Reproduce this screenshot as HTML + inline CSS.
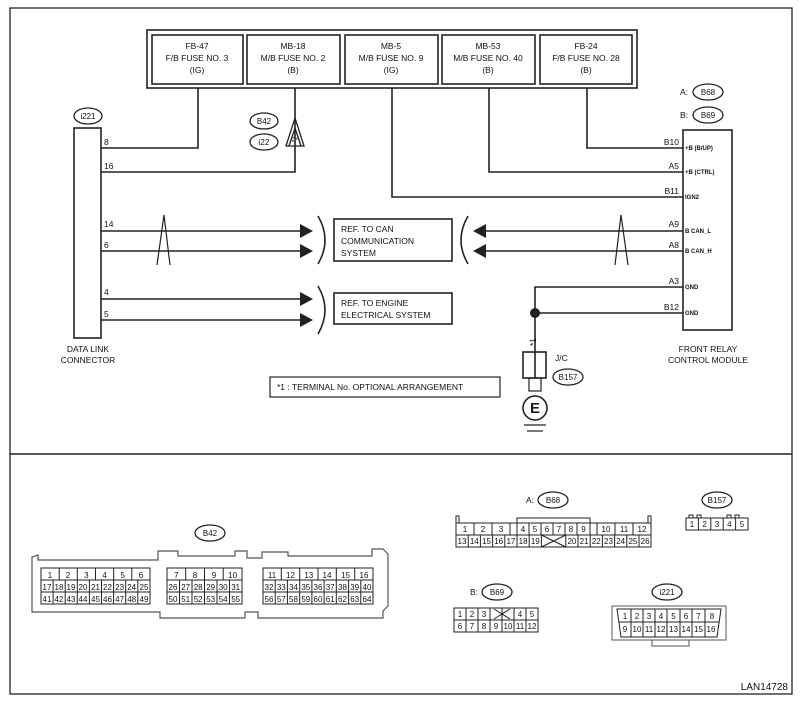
<!DOCTYPE html>
<html><head><meta charset="utf-8"><style>
html,body{margin:0;padding:0;background:#fff;}
svg{display:block;font-family:"Liberation Sans",Arial,sans-serif;}
.t{font-size:8.5px;fill:#111;}
.s{font-size:6px;fill:#111;font-weight:bold;}
.g{font-size:8px;fill:#111;text-anchor:middle;}
</style></head><body>
<svg width="802" height="704" viewBox="0 0 802 704" xmlns="http://www.w3.org/2000/svg">
<g fill="none" stroke="#222" stroke-width="1.3">
<rect x="10" y="8" width="782" height="686"/>
<line x1="10" y1="454" x2="792" y2="454" stroke-width="1.6"/>
</g>
<g fill="none" stroke="#222" stroke-width="1.6">
<rect x="147" y="30" width="490" height="58"/>
<rect x="152" y="35" width="91" height="49"/>
<rect x="247" y="35" width="93" height="49"/>
<rect x="345" y="35" width="93" height="49"/>
<rect x="442" y="35" width="93" height="49"/>
<rect x="540" y="35" width="92" height="49"/>
</g>
<g class="t" text-anchor="middle">
<text x="197" y="49">FB-47</text><text x="197" y="61">F/B FUSE NO. 3</text><text x="197" y="73">(IG)</text>
<text x="293" y="49">MB-18</text><text x="293" y="61">M/B FUSE NO. 2</text><text x="293" y="73">(B)</text>
<text x="391" y="49">MB-5</text><text x="391" y="61">M/B FUSE NO. 9</text><text x="391" y="73">(IG)</text>
<text x="488" y="49">MB-53</text><text x="488" y="61">M/B FUSE NO. 40</text><text x="488" y="73">(B)</text>
<text x="586" y="49">FB-24</text><text x="586" y="61">F/B FUSE NO. 28</text><text x="586" y="73">(B)</text>
</g>
<g fill="none" stroke="#222" stroke-width="1.6">
<polyline points="198,88 198,148 101,148"/>
<polyline points="295,88 295,172 101,172"/>
<polyline points="392,88 392,197 683,197"/>
<polyline points="489,88 489,172 683,172"/>
<polyline points="587,88 587,148 683,148"/>
<rect x="74" y="128" width="27" height="210"/>
<rect x="683" y="130" width="49" height="200"/>
<line x1="101" y1="231" x2="302" y2="231"/>
<line x1="101" y1="251" x2="302" y2="251"/>
<line x1="101" y1="299" x2="302" y2="299"/>
<line x1="101" y1="320" x2="302" y2="320"/>
<line x1="482" y1="231" x2="683" y2="231"/>
<line x1="482" y1="251" x2="683" y2="251"/>
<polyline points="683,287 535,287 535,352"/>
<line x1="535" y1="313" x2="683" y2="313"/>
<rect x="334" y="219" width="118" height="42"/>
<rect x="334" y="293" width="118" height="31"/>
<rect x="270" y="377" width="230" height="20" stroke-width="1.2"/>
<path d="M318,216 Q332,240 318,264"/>
<path d="M318,286 Q332,310 318,334"/>
<path d="M468,216 Q454,240 468,264"/>
<path d="M157,265 L164,215 L170,265" stroke-width="1.2"/>
<path d="M615,265 L621,215 L628,265" stroke-width="1.2"/>
<rect x="523" y="352" width="23" height="26"/>
<line x1="535" y1="352" x2="535" y2="378"/>
<rect x="529" y="378" width="12" height="13" stroke-width="1.2"/>
<circle cx="535" cy="408" r="12"/>
<line x1="524" y1="425" x2="546" y2="425" stroke-width="1.2"/>
<line x1="527" y1="431" x2="543" y2="431" stroke-width="1.2"/>
<path d="M286,146 L295,118 L304,146 Z M289,146 L295,128 L301,146" stroke-width="1.3"/>
</g>
<circle cx="535" cy="313" r="5" fill="#222"/>
<g fill="#222">
<path d="M300,224 L313,231 L300,238Z"/><path d="M300,244 L313,251 L300,258Z"/>
<path d="M300,292 L313,299 L300,306Z"/><path d="M300,313 L313,320 L300,327Z"/>
<path d="M486,224 L473,231 L486,238Z"/><path d="M486,244 L473,251 L486,258Z"/>
</g>
<text x="294" y="142" style="font-size:7px" fill="#222" text-anchor="middle" transform="rotate(-70 294 139)">*1</text>
<text x="535" y="413" text-anchor="middle" style="font-size:15px;font-weight:bold" fill="#222">E</text>
<g fill="#fff" stroke="#222" stroke-width="1.3">
<ellipse cx="88" cy="116" rx="14" ry="8"/>
<ellipse cx="264" cy="121" rx="14" ry="8"/>
<ellipse cx="264" cy="142" rx="14" ry="8"/>
<ellipse cx="708" cy="92" rx="15" ry="8"/>
<ellipse cx="708" cy="115" rx="15" ry="8"/>
<ellipse cx="568" cy="377" rx="15" ry="8"/>
<ellipse cx="210" cy="533" rx="15" ry="8"/>
<ellipse cx="553" cy="500" rx="15" ry="8"/>
<ellipse cx="717" cy="500" rx="15" ry="8"/>
<ellipse cx="497" cy="592" rx="15" ry="8"/>
<ellipse cx="667" cy="592" rx="15" ry="8"/>
</g>
<g class="g">
<text x="88" y="119">i221</text><text x="264" y="124">B42</text><text x="264" y="145">i22</text>
<text x="708" y="95">B68</text><text x="708" y="118">B69</text><text x="568" y="380">B157</text>
<text x="210" y="536">B42</text><text x="553" y="503">B68</text><text x="717" y="503">B157</text>
<text x="497" y="595">B69</text><text x="667" y="595">i221</text>
</g>
<g class="t">
<text x="680" y="95">A:</text><text x="680" y="118">B:</text>
<text x="526" y="503">A:</text><text x="470" y="595">B:</text>
<text x="104" y="145">8</text><text x="104" y="169">16</text>
<text x="104" y="227">14</text><text x="104" y="248">6</text>
<text x="104" y="295">4</text><text x="104" y="317">5</text>
<text x="679" y="145" text-anchor="end">B10</text><text x="679" y="169" text-anchor="end">A5</text>
<text x="679" y="194" text-anchor="end">B11</text><text x="679" y="227" text-anchor="end">A9</text>
<text x="679" y="248" text-anchor="end">A8</text><text x="679" y="284" text-anchor="end">A3</text>
<text x="679" y="310" text-anchor="end">B12</text>
<text x="341" y="232">REF. TO CAN</text><text x="341" y="244">COMMUNICATION</text><text x="341" y="256">SYSTEM</text>
<text x="341" y="306">REF. TO ENGINE</text><text x="341" y="318">ELECTRICAL SYSTEM</text>
<text x="88" y="352" text-anchor="middle">DATA LINK</text><text x="88" y="363" text-anchor="middle">CONNECTOR</text>
<text x="708" y="352" text-anchor="middle">FRONT RELAY</text><text x="708" y="363" text-anchor="middle">CONTROL MODULE</text>
<text x="555" y="361">J/C</text>
<text x="277" y="390">*1  : TERMINAL No. OPTIONAL ARRANGEMENT</text>
<text x="530" y="348" transform="rotate(-90 530 342)" text-anchor="middle">*1</text>
<text x="788" y="690" text-anchor="end" style="font-size:10px">LAN14728</text>
</g>
<g class="s">
<text x="685" y="150">+B (B/UP)</text><text x="685" y="174">+B (CTRL)</text><text x="685" y="199">IGN2</text>
<text x="685" y="233">B CAN_L</text><text x="685" y="253">B CAN_H</text>
<text x="685" y="289">GND</text><text x="685" y="315">GND</text>
</g>
<g fill="none" stroke="#555" stroke-width="1.2">
<path d="M32,557 L32,612 L160,612 L160,618 L245,618 L245,612 L258,612 L258,618 L383,618 L383,611 L388,606 L388,554 L383,549 L372,549 L372,556 L288,556 L288,552 L262,552 L262,558 L247,558 L247,551 L235,551 L235,556 L178,556 L178,551 L158,551 L158,560 L38,560 L38,555 Z"/>
</g>
<g fill="none" stroke="#222" stroke-width="1">
<rect x="41" y="568" width="109" height="36"/><line x1="41" y1="580" x2="150" y2="580"/><line x1="41" y1="592" x2="150" y2="592"/>
<path d="M59.2,568v12M77.3,568v12M95.5,568v12M113.7,568v12M131.8,568v12"/>
<path d="M53.1,580v24M65.2,580v24M77.3,580v24M89.4,580v24M101.5,580v24M113.6,580v24M125.7,580v24M137.8,580v24"/>
<rect x="167" y="568" width="75" height="36"/><line x1="167" y1="580" x2="242" y2="580"/><line x1="167" y1="592" x2="242" y2="592"/>
<path d="M185.7,568v12M204.5,568v12M223.2,568v12"/>
<path d="M179.5,580v24M192,580v24M204.5,580v24M217,580v24M229.5,580v24"/>
<rect x="263" y="568" width="110" height="36"/><line x1="263" y1="580" x2="373" y2="580"/><line x1="263" y1="592" x2="373" y2="592"/>
<path d="M281.3,568v12M299.7,568v12M318,568v12M336.3,568v12M354.7,568v12"/>
<path d="M275.2,580v24M287.4,580v24M299.7,580v24M311.9,580v24M324.1,580v24M336.3,580v24M348.6,580v24M360.8,580v24"/>
</g>
<g class="g">
<text x="50" y="578">1</text><text x="68" y="578">2</text><text x="86.4" y="578">3</text><text x="104.6" y="578">4</text><text x="122.7" y="578">5</text><text x="141" y="578">6</text>
<text x="47" y="590">17</text><text x="59" y="590">18</text><text x="71" y="590">19</text><text x="83" y="590">20</text><text x="95.5" y="590">21</text><text x="107.5" y="590">22</text><text x="119.6" y="590">23</text><text x="131.7" y="590">24</text><text x="144" y="590">25</text>
<text x="47" y="602">41</text><text x="59" y="602">42</text><text x="71" y="602">43</text><text x="83" y="602">44</text><text x="95.5" y="602">45</text><text x="107.5" y="602">46</text><text x="119.6" y="602">47</text><text x="131.7" y="602">48</text><text x="144" y="602">49</text>
<text x="176.4" y="578">7</text><text x="195" y="578">8</text><text x="214" y="578">9</text><text x="232.6" y="578">10</text>
<text x="173" y="590">26</text><text x="185.7" y="590">27</text><text x="198.2" y="590">28</text><text x="210.7" y="590">29</text><text x="223.2" y="590">30</text><text x="235.7" y="590">31</text>
<text x="173" y="602">50</text><text x="185.7" y="602">51</text><text x="198.2" y="602">52</text><text x="210.7" y="602">53</text><text x="223.2" y="602">54</text><text x="235.7" y="602">55</text>
<text x="272" y="578">11</text><text x="290.5" y="578">12</text><text x="308.8" y="578">13</text><text x="327" y="578">14</text><text x="345.5" y="578">15</text><text x="364" y="578">16</text>
<text x="269" y="590">32</text><text x="281.3" y="590">33</text><text x="293.5" y="590">34</text><text x="305.8" y="590">35</text><text x="318" y="590">36</text><text x="330.2" y="590">37</text><text x="342.5" y="590">38</text><text x="354.7" y="590">39</text><text x="367" y="590">40</text>
<text x="269" y="602">56</text><text x="281.3" y="602">57</text><text x="293.5" y="602">58</text><text x="305.8" y="602">59</text><text x="318" y="602">60</text><text x="330.2" y="602">61</text><text x="342.5" y="602">62</text><text x="354.7" y="602">63</text><text x="367" y="602">64</text>
</g>
<g fill="none" stroke="#222" stroke-width="1">
<path d="M456,523v-7h3v7M648,523v-7h3v7M517,523v-5h73v5"/>
<rect x="456" y="523" width="195" height="24"/><line x1="456" y1="535" x2="651" y2="535"/>
<path d="M474,523v12M492,523v12M510,523v12M517,523v12M529,523v12M541,523v12M553,523v12M565,523v12M577,523v12M590,523v12M597,523v12M615,523v12M633,523v12"/>
<path d="M468.2,535v12M480.4,535v12M492.6,535v12M504.8,535v12M517,535v12M529.2,535v12M541.4,535v12M565.8,535v12M578,535v12M590.2,535v12M602.4,535v12M614.6,535v12M626.8,535v12M639,535v12"/>
<path d="M541.4,535L565.8,547M541.4,547L565.8,535"/>
<path d="M689,518v-3h4v3M697,518v-3h4v3M727,518v-3h4v3M735,518v-3h4v3"/>
<rect x="686" y="518" width="62" height="12"/>
<path d="M698.4,518v12M710.8,518v12M723.2,518v12M735.6,518v12"/>
<rect x="454" y="608" width="84" height="24"/><line x1="454" y1="620" x2="538" y2="620"/>
<path d="M466,608v24M478,608v24M490,608v24M502,608v24M514,608v12M526,608v24M514,620v12"/>
<path d="M494,609L510,619M494,619L510,609"/>
<rect x="612" y="606" width="114" height="34" stroke="#555"/>
<path d="M617,609L721,609L717,637L621,637Z"/>
<line x1="619" y1="622" x2="719" y2="622"/>
<path d="M631,609v28M643,609v28M655,609v28M667,609v28M680,609v28M692,609v28M705,609v28"/>
<path d="M652,640v6h37v-6" stroke="#555"/>
</g>
<g class="g">
<text x="465" y="532">1</text><text x="483" y="532">2</text><text x="501" y="532">3</text><text x="523" y="532">4</text><text x="535" y="532">5</text><text x="547" y="532">6</text><text x="559" y="532">7</text><text x="571" y="532">8</text><text x="583.5" y="532">9</text><text x="606" y="532">10</text><text x="624" y="532">11</text><text x="642" y="532">12</text>
<text x="462" y="544">13</text><text x="474.3" y="544">14</text><text x="486.5" y="544">15</text><text x="498.7" y="544">16</text><text x="510.9" y="544">17</text><text x="523.1" y="544">18</text><text x="535.3" y="544">19</text><text x="571.9" y="544">20</text><text x="584.1" y="544">21</text><text x="596.3" y="544">22</text><text x="608.5" y="544">23</text><text x="620.7" y="544">24</text><text x="632.9" y="544">25</text><text x="645.1" y="544">26</text>
<text x="692" y="527">1</text><text x="704.6" y="527">2</text><text x="717" y="527">3</text><text x="729.4" y="527">4</text><text x="742" y="527">5</text>
<text x="460" y="617">1</text><text x="472" y="617">2</text><text x="484" y="617">3</text><text x="520" y="617">4</text><text x="532" y="617">5</text>
<text x="460" y="629">6</text><text x="472" y="629">7</text><text x="484" y="629">8</text><text x="496" y="629">9</text><text x="508" y="629">10</text><text x="520" y="629">11</text><text x="532" y="629">12</text>
<text x="625" y="619">1</text><text x="637" y="619">2</text><text x="649" y="619">3</text><text x="661" y="619">4</text><text x="673.5" y="619">5</text><text x="686" y="619">6</text><text x="698.5" y="619">7</text><text x="712" y="619">8</text>
<text x="625" y="632">9</text><text x="637" y="632">10</text><text x="649" y="632">11</text><text x="661" y="632">12</text><text x="673.5" y="632">13</text><text x="686" y="632">14</text><text x="698.5" y="632">15</text><text x="711" y="632">16</text>
</g>
</svg>
</body></html>
